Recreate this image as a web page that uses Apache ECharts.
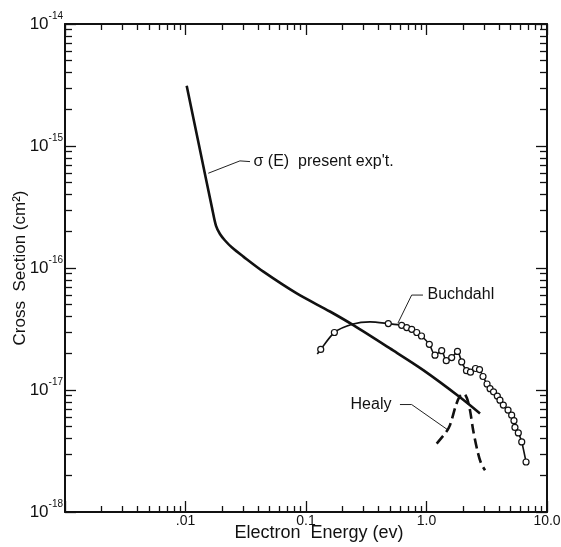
<!DOCTYPE html>
<html>
<head>
<meta charset="utf-8">
<script src="https://cdn.jsdelivr.net/npm/echarts@6/dist/echarts.min.js"></script>
<style>html,body{margin:0;padding:0;background:#fff}#chart{width:561px;height:547px}</style>
</head>
<body>
<div id="chart"></div>
<script>
// sigma(E), present experiment
const mainE = [0.01023, 0.01301, 0.0166, 0.01792, 0.01932, 0.02128, 0.02432, 0.0302, 0.0443, 0.0838, 0.158, 0.247, 0.498, 0.940, 1.897, 2.78];
const mainS = [3.12e-15, 9.9e-16, 3.11e-16, 2.21e-16, 1.90e-16, 1.68e-16, 1.47e-16, 1.24e-16, 9.33e-17, 6.19e-17, 4.40e-17, 3.40e-17, 2.19e-17, 1.456e-17, 8.73e-18, 6.43e-18];

// Buchdahl (pt 1 = open circle, 0 = curve only)
const buchE = [0.124, 0.1325, 0.172, 0.2455, 0.340, 0.482, 0.622, 0.685, 0.754, 0.830, 0.909, 1.055, 1.176, 1.337, 1.459, 1.618, 1.807, 1.959, 2.147, 2.317, 2.551, 2.754, 2.944, 3.18, 3.37, 3.60, 3.87, 4.07, 4.34, 4.75, 5.09, 5.32, 5.42, 5.78, 6.17, 6.70];
const buchS = [1.97e-17, 2.15e-17, 2.96e-17, 3.47e-17, 3.62e-17, 3.50e-17, 3.39e-17, 3.25e-17, 3.14e-17, 2.96e-17, 2.77e-17, 2.37e-17, 1.93e-17, 2.10e-17, 1.74e-17, 1.845e-17, 2.07e-17, 1.70e-17, 1.44e-17, 1.40e-17, 1.50e-17, 1.47e-17, 1.29e-17, 1.12e-17, 1.026e-17, 9.66e-18, 8.91e-18, 8.26e-18, 7.52e-18, 6.84e-18, 6.22e-18, 5.60e-18, 4.93e-18, 4.45e-18, 3.75e-18, 2.57e-18];
const buchPt = [0, 1, 1, 0, 0, 1, 1, 1, 1, 1, 1, 1, 1, 1, 1, 1, 1, 1, 1, 1, 1, 1, 1, 1, 1, 1, 1, 1, 1, 1, 1, 1, 1, 1, 1, 1];

// Healy
const healyE = [1.215, 1.452, 1.567, 1.757, 1.897, 2.047, 2.167, 2.295, 2.44, 2.64, 2.835, 3.06];
const healyS = [3.64e-18, 4.51e-18, 5.15e-18, 7.52e-18, 8.91e-18, 9.33e-18, 8.55e-18, 6.84e-18, 4.68e-18, 3.21e-18, 2.51e-18, 2.20e-18];

// leaders for the labels (first point = where the text sits)
const sigLead = [[0.0343, 7.45e-16], [0.0283, 7.55e-16], [0.01545, 5.98e-16]];
const buchLead = [[0.935, 6.0e-17], [0.753, 6.0e-17], [0.580, 3.54e-17]];
const healyLead = [[0.602, 7.6e-18], [0.753, 7.6e-18], [1.518, 4.68e-18]];

// axes
const xTickVals = [0.01, 0.1, 1, 10];
const xTickText = ['.01', '0.1', '1.0', '10.0'];
const xDecades = [0.001, 0.01, 0.1, 1, 10];
const yExp = [-18, -17, -16, -15, -14];

const font = "'Liberation Sans', Arial, sans-serif";
const ink = '#111';
const zip = (a, b) => a.map((v, i) => [v, b[i]]);
const minors = (lo, hi) => {
    const out = [];
    for (let d = lo; d < hi; d++) for (let k = 2; k <= 9; k++) out.push(k * Math.pow(10, d));
    return out;
};
const yVals = yExp.map(e => Math.pow(10, e));
const same = (a, b) => Math.abs(Math.log10(a) - Math.log10(b)) < 1e-6;

function xAx(pos, major, withLabel) {
    return {
        type: 'log', logBase: 10, min: 0.001, max: 10, position: pos,
        axisLine: { show: major, lineStyle: { color: ink, width: 2 } },
        axisTick: { inside: true, length: major ? 11 : 6, lineStyle: { color: ink, width: 1.3 },
            customValues: major ? xDecades : minors(-3, 1) },
        axisLabel: withLabel ? {
            customValues: xTickVals, margin: 2, color: ink, fontFamily: font, fontSize: 14,
            formatter: v => xTickText[xTickVals.findIndex(t => same(t, v))] || ''
        } : { show: false },
        splitLine: { show: false },
        name: withLabel ? 'Electron  Energy (ev)' : '', nameLocation: 'middle', nameGap: 12,
        nameMoveOverlap: false,
        nameTextStyle: { color: ink, fontFamily: font, fontSize: 18, padding: [0, 0, 0, 26] }
    };
}

function yAx(pos, major, withLabel) {
    return {
        type: 'log', logBase: 10, min: 1e-18, max: 1e-14, position: pos,
        axisLine: { show: major, lineStyle: { color: ink, width: 2 } },
        axisTick: { inside: true, length: major ? 11 : 7, lineStyle: { color: ink, width: 1.3 },
            customValues: major ? yVals : minors(-18, -14) },
        axisLabel: withLabel ? {
            customValues: yVals, margin: 2, color: ink, fontFamily: font,
            formatter: v => '{b|10}{e|' + Math.round(Math.log10(v)) + '}',
            rich: {
                b: { fontSize: 17, lineHeight: 26, fontFamily: font, color: ink },
                e: { fontSize: 10, verticalAlign: 'top', fontFamily: font, color: ink }
            }
        } : { show: false },
        splitLine: { show: false },
        name: withLabel ? 'Cross  Section (cm²)' : '', nameLocation: 'middle', nameGap: 36, nameRotate: 90,
        nameMoveOverlap: false,
        nameTextStyle: { color: ink, fontFamily: font, fontSize: 17 }
    };
}

function leader(pts) {
    return { type: 'line', data: pts, symbol: 'none', silent: true, z: 1,
             lineStyle: { color: '#222', width: 1 } };
}

function tag(pt, text, pos, dist) {
    return {
        type: 'scatter', data: [pt], symbolSize: 1, silent: true,
        itemStyle: { color: 'rgba(0,0,0,0)', opacity: 1 },
        label: { show: true, position: pos, distance: dist, formatter: text,
                 color: ink, fontFamily: font, fontSize: 16 }
    };
}

const chart = echarts.init(document.getElementById('chart'));
chart.setOption({
    backgroundColor: '#fff',
    animation: false,
    grid: { left: 65, right: 14, top: 24, bottom: 35, outerBoundsMode: 'none', containLabel: false },
    xAxis: [xAx('bottom', true, true), xAx('bottom', false, false), xAx('top', true, false), xAx('top', false, false)],
    yAxis: [yAx('left', true, true), yAx('left', false, false), yAx('right', true, false), yAx('right', false, false)],
    series: [
        { name: 'present', type: 'line', data: zip(mainE, mainS), symbol: 'none', smooth: 0.3,
          lineStyle: { color: ink, width: 2.6 } },
        { name: 'Buchdahl', type: 'line', smooth: 0.25,
          data: buchE.map((e, i) => buchPt[i] ? [e, buchS[i]] : { value: [e, buchS[i]], symbol: 'none' }),
          symbol: 'circle', symbolSize: 6, showAllSymbol: true, z: 3,
          itemStyle: { color: '#fff', borderColor: ink, borderWidth: 1.2 },
          lineStyle: { color: ink, width: 1.6 } },
        { name: 'Healy', type: 'line', data: zip(healyE, healyS), symbol: 'none', smooth: 0.3,
          lineStyle: { color: ink, width: 2.6, type: [10, 5] } },
        leader(sigLead), leader(buchLead), leader(healyLead),
        tag(sigLead[0], 'σ (E)  present exp\'t.', 'right', 3),
        tag(buchLead[0], 'Buchdahl', 'right', 4),
        tag(healyLead[0], 'Healy', 'left', 8)
    ]
});
</script>
</body>
</html>
